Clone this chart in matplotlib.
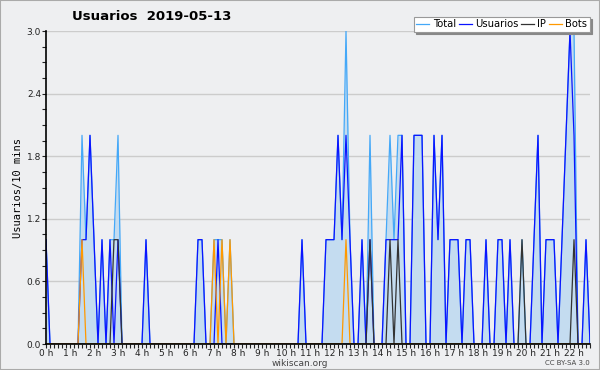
import numpy as np
from matplotlib import pyplot as plt
from matplotlib.ticker import MultipleLocator, FixedLocator

# values per 10 minute bin, from 0:00 to 22:40
usuarios = [1, 0, 0, 0, 0, 0, 0, 0, 0, 1, 1, 2, 1, 0, 1, 0, 1, 0, 1, 0,
            0, 0, 0, 0, 0, 1, 0, 0, 0, 0, 0, 0, 0, 0, 0, 0, 0, 0, 1, 1,
            0, 0, 0, 1, 0, 0, 0, 0, 0, 0, 0, 0, 0, 0, 0, 0, 0, 0, 0, 0,
            0, 0, 0, 0, 1, 0, 0, 0, 0, 0, 1, 1, 1, 2, 1, 2, 1, 0, 0, 1,
            0, 1, 0, 0, 0, 1, 1, 1, 1, 2, 0, 0, 2, 2, 2, 0, 0, 2, 1, 2,
            0, 1, 1, 1, 0, 1, 1, 0, 0, 0, 1, 0, 0, 1, 1, 0, 1, 0, 0, 0,
            0, 0, 1, 2, 0, 1, 1, 1, 0, 1, 2, 3, 2, 0, 0, 1, 0]
ip = [0] * 137
for i in [17, 18, 81, 86, 88, 119, 132]:
    ip[i] = 1
bots = [0] * 137
for i in [9, 42, 44, 46, 75]:
    bots[i] = 1
total = [u + p + b for u, p, b in zip(usuarios, ip, bots)]
hour_labels = ["%d h" % h for h in range(23)]

x = np.arange(len(usuarios))

bg = '#eeeff1'
fig = plt.figure(figsize=(6, 3.7), dpi=100, facecolor=bg)
ax = fig.add_axes([46/600, 26/370, 544/600, 313/370], facecolor=bg)

ax.fill_between(x, total, color='#c4dcf0', lw=0)
ax.plot(x, total, color='#44a8f8', lw=0.9, label='Total')
ax.plot(x, usuarios, color='#0a14ff', lw=0.9, label='Usuarios')
ax.plot(x, ip, color='#333333', lw=0.9, label='IP')
ax.plot(x, bots, color='#ff9900', lw=0.9, label='Bots')

ax.set_xlim(0, len(usuarios) - 1)
ax.set_ylim(0, 3.0)
ax.xaxis.set_major_locator(FixedLocator(np.arange(0, 23) * 6))
ax.set_xticklabels(hour_labels)
ax.xaxis.set_minor_locator(MultipleLocator(1))
ax.yaxis.set_major_locator(MultipleLocator(0.6))
ax.yaxis.set_minor_locator(MultipleLocator(0.15))
ax.yaxis.set_major_formatter('{x:.1f}')
ax.tick_params(axis='both', which='major', labelsize=6.5, length=3, width=0.8,
               colors='#222222', pad=0.5)
ax.tick_params(axis='both', which='minor', length=3, width=0.8, colors='#222222')
ax.grid(axis='y', color='#cccccc', lw=1)
ax.set_axisbelow(True)
for s in ['top', 'right']:
    ax.spines[s].set_visible(False)
for s in ['left', 'bottom']:
    ax.spines[s].set_linewidth(1.2)
    ax.spines[s].set_zorder(5)

ax.set_ylabel('Usuarios/10 mins', family='DejaVu Sans Mono', fontsize=7.5, labelpad=3)

fig.text(0.252, 0.955, 'Usuarios  2019-05-13', ha='center', va='center',
         fontsize=9.5, fontweight='bold')
leg = fig.legend(loc='upper right', bbox_to_anchor=(0.983, 0.955), ncol=4,
                 fontsize=7.2, frameon=True, fancybox=False,
                 shadow={'color': '#888888', 'alpha': 1, 'ox': 1.5, 'oy': -1.5},
                 handlelength=1.3, handletextpad=0.35, columnspacing=0.25,
                 borderpad=0.25, borderaxespad=0)
leg.get_frame().set_edgecolor('#999999')
leg.get_frame().set_linewidth(0.8)

fig.text(0.5, 0.018, 'wikiscan.org', ha='center', va='center', fontsize=6.5, color='#444444')
fig.text(0.983, 0.018, 'CC BY-SA 3.0', ha='right', va='center', fontsize=5, color='#444444')

fig.patches.append(plt.Rectangle((0, 0), 1, 1, transform=fig.transFigure,
                                 fill=False, edgecolor='#aaaaaa', lw=1.5))

fig.savefig('out.png', dpi=100, facecolor=bg)
